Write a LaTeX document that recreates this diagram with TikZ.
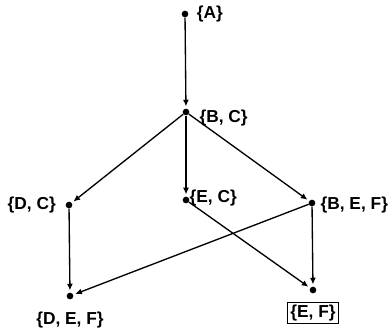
\documentclass[tikz,border=0pt]{standalone}
\usepackage{fontspec}
\setmainfont{Liberation Sans}
\usetikzlibrary{positioning, arrows.meta}

\begin{document}
\begin{tikzpicture}[
				x=0.75pt, y=-0.75pt,
				% --- ESTILOS ---
				punto/.style={
					circle, fill=black, inner sep=0pt, minimum size=5pt
				},
				etiqueta/.style={
					inner sep=1pt, font=\bfseries\fontsize{13}{15}\selectfont
				},
				final/.style={
					etiqueta, draw, thick, inner sep=2pt
				},
				line/.style={
					draw, -{Latex[length=5pt, width=4.5pt]}, line width=1pt, shorten >=1.5pt
				}
				]
				
				% --- Marco ---
				\useasboundingbox (0,0) rectangle (391,330);
				
				% --- 1. Los puntos (estados) ---
				\node [punto] (a) at (185,14) {};
				\node [punto] (bc) at (186,112) {};
				\node [punto] (dc) at (69,205) {};
				\node [punto] (ec) at (186,200) {};
				\node [punto] (bef) at (312,203) {};
				\node [punto] (def) at (70,296) {};
				\node [punto] (ef) at (313,290) {};
				
				% --- 2. Las etiquetas ---
				\node [etiqueta, right=5pt of a] (lab_a) {\{A\}};
				\node [etiqueta, anchor=west] (lab_bc) at (198,118) {\{B, C\}};
				\node [etiqueta, left=6pt of dc] (lab_dc) {\{D, C\}};
				\node [etiqueta, anchor=west] (lab_ec) at (188,198) {\{E, C\}};
				\node [etiqueta, anchor=west] (lab_bef) at (319,205) {\{B, E, F\}};
				\node [etiqueta, below=8pt of def] (lab_def) {\{D, E, F\}};
				\node [final, below=6pt of ef] (lab_ef) {\{E, F\}};
				
				% --- 3. Las conexiones ---
				\draw [line] (a) -- (bc);
				\draw [line] (bc) -- (dc);
				\draw [line] (bc) -- (ec);
				\draw [line] (bc) -- (bef);
				\draw [line] (dc) -- (def);
				\draw [line] (bef) -- (def);
				\draw [line] (ec) -- (ef);
				\draw [line] (bef) -- (ef);
				
			\end{tikzpicture}
\end{document}
